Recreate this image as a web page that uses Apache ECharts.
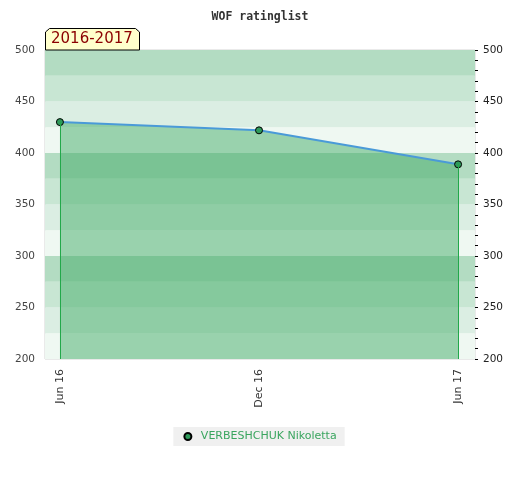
<!DOCTYPE html>
<html><head><meta charset="utf-8">
<script src="https://cdn.jsdelivr.net/npm/echarts@6/dist/echarts.min.js"></script>
<style>html,body{margin:0;padding:0;background:#fff}#c{width:520px;height:480px}</style>
</head><body><div id="c"></div>
<script>
var categories = ['Jun 16', 'Dec 16', 'Jun 17'];
var ratings = [430, 422, 389];
var seriesName = 'VERBESHCHUK Nikoletta';
var seasonLabel = '2016-2017';
var chartTitle = 'WOF ratinglist';
var yMin = 200, yMax = 500;

var pts = ratings.map(function (v, i) { return [i, v]; });
var edgeLines = [0, ratings.length - 1].map(function (i) {
  return [{ coord: [i, ratings[i]] }, { coord: [i, yMin] }];
});

var chart = echarts.init(document.getElementById('c'));
chart.setOption({
  animation: false,
  title: { text: chartTitle, left: 'center', top: 6,
    textStyle: { fontFamily: 'DejaVu Sans Mono', fontSize: 11.5, fontWeight: 'bold', color: '#333' } },
  grid: { left: 45, right: 45, top: 50, bottom: 121, show: true, borderColor: '#d4d4d4', borderWidth: 1, backgroundColor: 'transparent' },
  legend: { bottom: 34, left: 'center', backgroundColor: '#f0f0f0', padding: [4, 8, 4, 10], itemWidth: 8, itemHeight: 7, itemGap: 10,
    textStyle: { color: '#3aa55f', fontSize: 11, fontFamily: 'DejaVu Sans', padding: [0, 0, 0, 4] }, data: [{ name: seriesName, icon: 'circle' }] },
  xAxis: { type: 'value', min: -0.075, max: 2.085,
    axisLine: { show: false }, axisTick: { show: false }, splitLine: { show: false },
    axisLabel: { customValues: categories.map(function (c, i) { return i; }), rotate: 90, margin: 10,
      color: '#333', fontSize: 11, fontFamily: 'DejaVu Sans',
      formatter: function (v) { return categories[Math.round(v)] || ''; } } },
  yAxis: [
    { type: 'value', min: yMin, max: yMax, interval: 50, position: 'left',
      axisLine: { show: false }, axisTick: { show: false }, splitLine: { show: false },
      axisLabel: { color: '#444', fontSize: 10.5, fontFamily: 'DejaVu Sans', margin: 10 } },
    { type: 'value', min: yMin, max: yMax, interval: 50, position: 'right',
      axisLine: { show: false }, axisTick: { show: true, length: 3, lineStyle: { color: '#000' } },
      minorTick: { show: true, splitNumber: 5, length: 3, lineStyle: { color: '#000' } },
      splitLine: { show: false },
      axisLabel: { color: '#222', fontSize: 10.5, fontFamily: 'DejaVu Sans', margin: 8 } },
    { type: 'value', min: yMin, max: yMax, interval: 25, position: 'left', offset: 0,
      axisLine: { show: false }, axisTick: { show: false }, axisLabel: { show: false }, splitLine: { show: false },
      splitArea: { show: true, areaStyle: { color: ['#eff8f2', '#dbeee3', '#c8e6d3', '#b3dcc2'] } } }
  ],
  series: [{
    name: seriesName, type: 'line', data: pts, yAxisIndex: 0,
    symbol: 'circle', symbolSize: 7,
    lineStyle: { color: '#4a9ad8', width: 2 },
    itemStyle: { color: '#2e9a5a', borderColor: '#000', borderWidth: 1 },
    areaStyle: { color: 'rgb(57,168,95)', opacity: 0.47, origin: 'start' },
    markLine: { silent: true, symbol: 'none', label: { show: false },
      lineStyle: { color: '#22a84a', width: 1, type: 'solid' }, data: edgeLines }
  }],
  graphic: [
    { type: 'polygon', z: 100,
      shape: { points: [[45.5, 50], [45.5, 32], [49.5, 28.5], [135.5, 28.5], [139.5, 32], [139.5, 50]] },
      style: { fill: '#ffffcc', stroke: '#000', lineWidth: 1 } },
    { type: 'text', z: 101, left: 51, top: 32,
      style: { text: seasonLabel, fill: '#8b0000', font: '15px DejaVu Sans' } }
  ]
});
</script></body></html>
